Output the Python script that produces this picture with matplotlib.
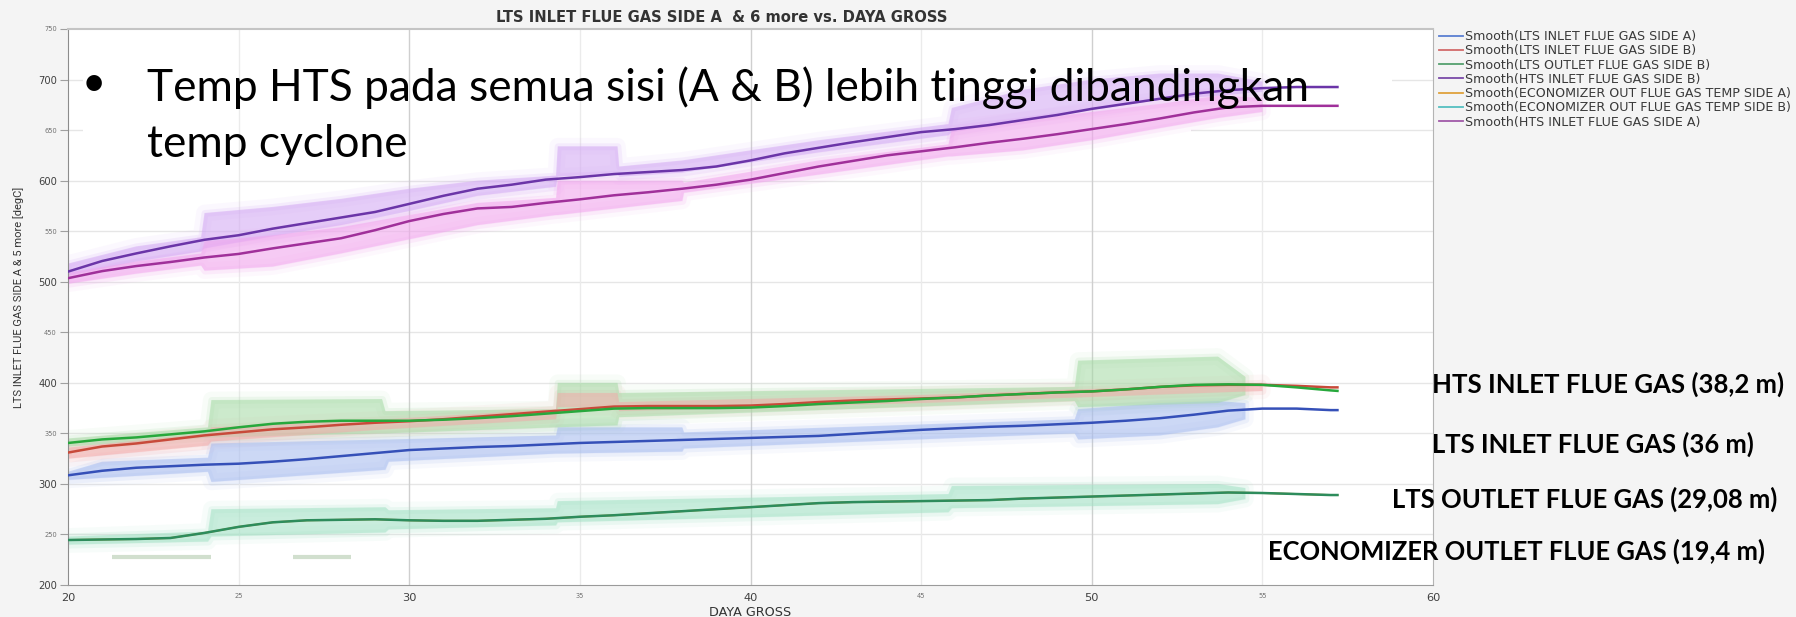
import matplotlib.pyplot as plt
from matplotlib.lines import Line2D
from matplotlib.patches import Rectangle

X_TICKS = list(range(20, 61, 5))
Y_TICKS = list(range(200, 751, 50))

# smoothed curves (degC) against DAYA GROSS
load = [20, 21, 22, 23, 24, 25, 26, 27, 28, 29, 30, 31, 32, 33, 34, 35, 36, 37, 38, 39,
        40, 41, 42, 43, 44, 45, 46, 47, 48, 49, 50, 51, 52, 53, 54, 55, 56, 57, 57.2]
hts_b = [510, 520.5, 528, 535, 541.5, 546, 552.5, 558, 563.5, 569, 577, 585, 592, 596, 601,
         603.5, 606.5, 608.5, 610.5, 614, 620, 627, 632.5, 638, 643, 648, 651, 655, 660, 665,
         671, 676, 681, 686, 689.5, 691.5, 692.6, 692.6, 692.6]
hts_a = [503.5, 510.5, 515.5, 519.5, 524, 527.5, 533, 538, 543, 551, 560, 567, 572.5, 574, 578,
         581.5, 585.5, 588.5, 592, 596, 601, 607.5, 614, 619.5, 625, 629, 633, 637.5, 641.5,
         646, 651, 656, 661.5, 667.5, 672.5, 674, 674, 674, 674]
lts_out_b = [340.5, 344, 346, 349, 352, 356, 359.5, 361.5, 362.5, 362.5, 362.5, 363.5, 365, 367,
             369.5, 372, 374.5, 375, 375, 375, 375.5, 377, 379, 380.5, 382, 384, 385.5, 387.5,
             389, 390.5, 391.5, 393.5, 396, 398, 398.5, 398, 395.5, 392.5, 392]
lts_in_b = [331, 337, 340, 344, 348, 351, 354, 356, 358.5, 360.5, 362, 364, 366.5, 369, 371.5,
            374, 376.5, 377, 377, 377, 377.5, 379, 381, 382.5, 383.5, 384.5, 385.5, 387.5, 389,
            390.5, 391.5, 393.5, 396, 397.5, 398, 398, 397, 395.5, 395.5]
lts_in_a = [308.5, 313, 316, 317.5, 319, 320, 322, 324.5, 327.5, 330.5, 333.5, 335, 336.5, 337.5,
            339, 340.5, 341.5, 342.5, 343.5, 344.5, 345.5, 346.5, 347.5, 349.5, 351.5, 353.5,
            355, 356.5, 357.5, 359, 360.5, 362.5, 365, 368.5, 372.5, 374.5, 374.5, 373, 373]
econ_b = [244.5, 245, 245.5, 246.5, 251.5, 257.5, 262, 264, 264.5, 265, 264, 263.5, 263.5, 264.5,
          265.5, 267.5, 269, 271, 273, 275, 277, 279, 281, 282, 282.5, 283, 283.5, 284, 285.5,
          286.5, 287.5, 288.5, 289.5, 290.5, 291.5, 291, 290, 289, 289]
econ_a = list(econ_b)  # side A smooth runs underneath side B

# dense part of each scatter cloud (low / high edge)
hts_b_bx = [20, 22, 23.9, 24.0, 26, 28, 30, 32, 34.3, 34.35, 36.1, 36.15, 38, 42, 45.8, 45.9,
            48, 50, 52, 53.7, 55]
hts_b_lo = [506, 520, 530, 533, 545, 556, 570, 585, 594, 604, 607, 604, 608, 628, 645, 648,
            660, 670, 680, 684, 688]
hts_b_hi = [518, 535, 544, 568, 574, 582, 592, 600, 605, 634, 634, 614, 620, 640, 656, 672,
            690, 700, 706, 706, 698]

hts_a_bx = [20, 22, 23.9, 24.0, 26, 28, 30, 32, 34.3, 34.35, 38.0, 38.05, 42, 45.8, 45.9,
            48, 50, 52, 53.7, 55]
hts_a_lo = [498, 508, 516, 511, 515, 528, 542, 556, 566, 566, 580, 588, 606, 624, 624,
            630, 640, 652, 662, 668]
hts_a_hi = [509, 520, 528, 540, 546, 554, 566, 578, 583, 600, 600, 598, 620, 636, 652,
            660, 668, 676, 684, 682]

in_a_bx = [20, 21, 24.1, 24.2, 29.3, 29.4, 34.3, 34.35, 38.0, 38.05, 49.5, 49.6, 52, 53.7, 54.5]
in_a_lo = [304, 306, 312, 302, 314, 322, 330, 330, 332, 335, 350, 344, 348, 356, 364]
in_a_hi = [312, 322, 326, 340, 344, 344, 348, 356, 356, 351, 364, 374, 380, 382, 380]

in_b_bx = [20, 24.1, 24.2, 29.3, 34.3, 34.35, 36.1, 36.15, 45, 55]
in_b_lo = [325, 338, 342, 354, 364, 376, 376, 372, 380, 392]
in_b_hi = [336, 350, 356, 364, 374, 390, 390, 381, 388, 400]

out_b_bx = [20, 24.1, 24.2, 29.2, 29.3, 34.3, 34.35, 36.1, 36.15, 49.5, 49.6, 53.7, 54.5]
out_b_lo = [337, 346, 346, 350, 350, 356, 356, 358, 366, 382, 376, 380, 388]
out_b_hi = [345, 356, 383, 384, 372, 374, 400, 400, 390, 396, 422, 426, 406]

econ_bx = [20, 24.1, 24.2, 29.3, 29.4, 34.3, 34.35, 45.8, 45.9, 53.7, 54.5]
econ_lo = [240, 243, 248, 252, 255, 259, 262, 272, 276, 280, 285]
econ_hi = [248, 253, 275, 277, 274, 276, 283, 290, 298, 300, 296]

# short runs of low economizer readings
econ_low_runs = [(21.3, 24.2), (26.6, 28.3)]
econ_low_level = 228

legend_labels = [
    "Smooth(LTS INLET FLUE GAS SIDE A)",
    "Smooth(LTS INLET FLUE GAS SIDE B)",
    "Smooth(LTS OUTLET FLUE GAS SIDE B)",
    "Smooth(HTS INLET FLUE GAS SIDE B)",
    "Smooth(ECONOMIZER OUT FLUE GAS TEMP SIDE A)",
    "Smooth(ECONOMIZER OUT FLUE GAS TEMP SIDE B)",
    "Smooth(HTS INLET FLUE GAS SIDE A)",
]
legend_colors = ["#5b7fd1", "#d26a6a", "#55a06e", "#7a4aa8", "#e0a23c", "#55bfc0", "#a05aa8"]

side_labels = [
    "HTS INLET FLUE GAS (38,2 m)",
    "LTS INLET FLUE GAS (36 m)",
    "LTS OUTLET FLUE GAS (29,08 m)",
    "ECONOMIZER OUTLET FLUE GAS (19,4 m)",
]

W, H = 1796, 617
fig = plt.figure(figsize=(W / 100, H / 100), dpi=100, facecolor="#f4f4f4")
ax = fig.add_axes([68 / W, 1 - 585 / H, (1433 - 68) / W, (585 - 29) / H])
ax.set_facecolor("white")
ax.set_xlim(20, 60)
ax.set_ylim(200, 750)

# grid
for v in Y_TICKS[1:-1]:
    ax.axhline(v, color="#e6e6e6", lw=1.0, zorder=0)
# the callout text boxes blank out part of the two top grid lines
ax.add_patch(Rectangle((20.45, 697), 58.8 - 20.45, 6, facecolor="white", lw=0, zorder=0.5))
ax.add_patch(Rectangle((20.45, 647), 52.9 - 20.45, 6, facecolor="white", lw=0, zorder=0.5))
for v in X_TICKS[1:-1]:
    ax.axvline(v, color="#cfcfcf" if v % 10 == 0 else "#ebebeb", lw=1.0, zorder=0.6)


def cloud(x, lo, hi, color):
    ax.fill_between(x, lo, hi, facecolor="none", edgecolor=color, lw=12, alpha=0.08, zorder=1)
    ax.fill_between(x, lo, hi, facecolor=color, edgecolor=color, lw=5, alpha=0.16, zorder=1)
    ax.fill_between(x, lo, hi, facecolor=color, lw=0, alpha=0.5, zorder=1.1)


cloud(hts_b_bx, hts_b_lo, hts_b_hi, "#d4aaf4")
cloud(hts_a_bx, hts_a_lo, hts_a_hi, "#f2a6ee")
cloud(in_a_bx, in_a_lo, in_a_hi, "#a8bdf0")
cloud(out_b_bx, out_b_lo, out_b_hi, "#a8dca8")
cloud(in_b_bx, in_b_lo, in_b_hi, "#f2aaaa")
cloud(econ_bx, econ_lo, econ_hi, "#a4e2c6")

for a, b in econ_low_runs:
    ax.plot([a, b], [econ_low_level, econ_low_level], color="#c6d8c2", lw=3,
            alpha=0.8, solid_capstyle="butt", zorder=1.2)

lw = 1.8
ax.plot(load, hts_b, color="#6b35a8", lw=lw, zorder=3)
ax.plot(load, hts_a, color="#a0309a", lw=lw, zorder=3)
ax.plot(load, lts_in_a, color="#3550b8", lw=lw, zorder=3)
ax.plot(load, lts_in_b, color="#c84a3a", lw=lw, zorder=3)
ax.plot(load, lts_out_b, color="#27a83c", lw=lw, zorder=3)
ax.plot(load, econ_a, color="#d89a3a", lw=lw - 0.4, zorder=2.9)
ax.plot(load, econ_b, color="#2d8c5c", lw=lw, zorder=3)

# ticks
ax.set_xticks(X_TICKS)
ax.set_xticklabels([str(v) for v in X_TICKS])
for lab, v in zip(ax.get_xticklabels(), X_TICKS):
    lab.set_fontsize(8.2 if v % 10 == 0 else 4.8)
    lab.set_color("#404040" if v % 10 == 0 else "#707070")
ax.set_yticks(Y_TICKS)
ax.set_yticklabels([str(v) for v in Y_TICKS])
for lab, v in zip(ax.get_yticklabels(), Y_TICKS):
    lab.set_fontsize(7.2 if v % 100 == 0 else 4.8)
    lab.set_color("#404040" if v % 100 == 0 else "#707070")
ax.tick_params(axis="x", length=0, pad=5.5)
ax.tick_params(axis="y", length=6, width=0.8, color="#a0a0a0", pad=2)

ax.spines["left"].set_color("#8c8c8c")
ax.spines["bottom"].set_color("#9a9a9a")
ax.spines["top"].set_color("#c4c4c4")
ax.spines["top"].set_linewidth(1.5)
ax.spines["right"].set_color("#b4b4b4")

renderer = fig.canvas.get_renderer()


def fit(t, target, vertical=False):
    bb = t.get_window_extent(renderer)
    size = bb.height if vertical else bb.width
    t.set_fontsize(t.get_fontsize() * target / size)


# legend: size the font from the longest entry
probe = fig.text(0, 0, max(legend_labels, key=len), fontsize=9)
fit(probe, 327)
leg_size = probe.get_fontsize()
probe.remove()

handles = [Line2D([], [], color=c, lw=1.3) for c in legend_colors]
leg = ax.legend(handles, legend_labels, loc="upper left",
                bbox_to_anchor=(1439 / W, 1 - 30 / H), bbox_transform=fig.transFigure,
                frameon=False, fontsize=leg_size, handlelength=1.9, handletextpad=0.15,
                labelspacing=0.1, borderpad=0, borderaxespad=0)
for t in leg.get_texts():
    t.set_color("#3a3a3a")

title = fig.text(722 / W, 1 - 22 / H, "LTS INLET FLUE GAS SIDE A  & 6 more vs. DAYA GROSS",
                 ha="center", va="baseline", fontsize=9, fontweight="bold", color="#333333")
fit(title, 449)

xlab = fig.text(750 / W, 1 - 616 / H, "DAYA GROSS", ha="center", va="baseline",
                fontsize=9, color="#333333")
fit(xlab, 82)

narrow = ["Liberation Sans Narrow", "Roboto", "DejaVu Sans"]
ylab = fig.text(19 / W, 1 - 297 / H, "LTS INLET FLUE GAS SIDE A & 5 more [degC]",
                rotation=90, ha="center", va="center", fontsize=8, color="#333333",
                family=narrow)
fit(ylab, 221, vertical=True)

# slide callout
callout = ["Lato", "DejaVu Sans"]
fig.text(94 / W, 1 - 84 / H, "\u2022", ha="center", va="center", fontsize=30,
         color="black", family=callout, zorder=5)
line1 = fig.text(147 / W, 1 - 101 / H,
                 "Temp HTS pada semua sisi (A & B) lebih tinggi dibandingkan",
                 ha="left", va="baseline", fontsize=30, color="black", family=callout, zorder=5)
fit(line1, 1159)
fig.text(147 / W, 1 - 157 / H, "temp cyclone", ha="left", va="baseline",
         fontsize=line1.get_fontsize(), color="black", family=callout, zorder=5)

side_left = [1432, 1432, 1392, 1268]
side_base = [393, 453, 508, 560]
side_width = [351, 322, 386, 497]
for text, x0, yb, wd in zip(side_labels, side_left, side_base, side_width):
    t = fig.text(x0 / W, 1 - yb / H, text, ha="left", va="baseline", fontsize=18,
                 fontweight="bold", color="black", family=callout, zorder=5)
    fit(t, wd)

fig.savefig("out.png", dpi=100, facecolor=fig.get_facecolor())
